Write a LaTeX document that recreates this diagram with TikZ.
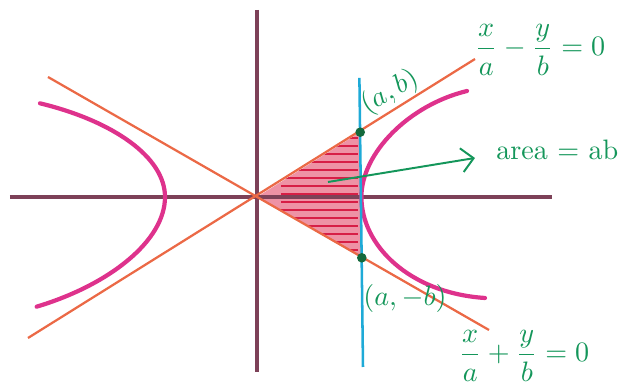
\documentclass[tikz,border=0pt]{standalone}
\usepackage{amsmath}
\usetikzlibrary{arrows.meta}
\definecolor{axiscol}{RGB}{125,65,88}
\definecolor{asymcol}{RGB}{235,105,70}
\definecolor{hypcol}{RGB}{222,50,140}
\definecolor{bluecol}{RGB}{30,170,215}
\definecolor{inkgreen}{RGB}{20,150,90}
\definecolor{dotgreen}{RGB}{20,105,60}
\definecolor{shadecol}{RGB}{232,110,135}
\definecolor{hatchcol}{RGB}{215,30,70}
\tikzset{
  axis/.style={axiscol, line width=1.1pt},
  asym/.style={asymcol, line width=0.8pt},
  branch/.style={hypcol, line width=1.5pt, line cap=round},
  vline/.style={bluecol, line width=0.9pt},
  hatch/.style={hatchcol, line width=0.6pt},
  lbl/.style={inkgreen, inner sep=1pt},
  pt/.style={circle, fill=dotgreen, inner sep=0pt, minimum size=1.2mm}
}
\begin{document}
\begin{tikzpicture}
\useasboundingbox (-3.2125,-2.3375) rectangle (4.7,2.4625);

% axes
\coordinate (O) at (0,0);
\coordinate (xl) at (-3.09,0);
\coordinate (xr) at (3.69,0);
\coordinate (yt) at (0,2.3375);
\coordinate (yb) at (0,-2.1875);

% asymptote ends and the line x = a
\coordinate (ll) at (-2.8625,-1.7625);
\coordinate (ur) at (2.725,1.725);
\coordinate (ul) at (-2.6125,1.5);
\coordinate (lr) at (2.9,-1.6625);
\coordinate (bt) at (1.28,1.49);
\coordinate (bb) at (1.325,-2.125);
\coordinate (P) at (1.29,0.81);
\coordinate (Q) at (1.31,-0.76);

% shaded triangle
\fill[shadecol, opacity=0.75] (O) -- (P) -- (Q) -- cycle;
\begin{scope}
\clip (O) -- (P) -- (Q) -- cycle;
\foreach \y in {-0.66,-0.56,...,0.76}
  \draw[hatch] (0.3,\y) -- (1.26,\y);
\end{scope}

\draw[axis] (xl) -- (xr);
\draw[axis] (yt) -- (yb);

\draw[asym] (ll) -- (ur);
\draw[asym] (ul) -- (lr);

% hyperbola
\draw[branch] (-2.7125,1.171) .. controls (-1.8,0.95) and (-1.15,0.5) .. (-1.15,0)
  .. controls (-1.15,-0.55) and (-1.85,-1.1) .. (-2.754,-1.371);
\draw[branch] (2.625,1.325) .. controls (1.9,1.15) and (1.305,0.55) .. (1.305,0)
  .. controls (1.305,-0.6) and (1.9,-1.2) .. (2.85,-1.2625);

\draw[vline] (bt) -- (bb);

\node[pt] (dab) at (P) {};
\node[pt] (damb) at (Q) {};

% labels
\node[lbl, rotate=30] (pab) at (1.66,1.31) {$(a,b)$};
\node[lbl] (pamb) at (1.85,-1.2625) {$(a,-b)$};
\node[lbl] (eq1) at (3.5375,1.8375) {$\dfrac{x}{a}-\dfrac{y}{b}=0$};
\node[lbl] (eq2) at (3.3375,-1.9875) {$\dfrac{x}{a}+\dfrac{y}{b}=0$};
\node[lbl, anchor=west] (area) at (2.95,0.59) {area $=$ ab};

\coordinate (as) at (0.8875,0.1875);
\coordinate (tip) at (2.725,0.4875);
\draw[inkgreen, line width=0.7pt, -{Straight Barb[length=1.5mm,width=3mm]}] (as) -- (tip);
\end{tikzpicture}
\end{document}
